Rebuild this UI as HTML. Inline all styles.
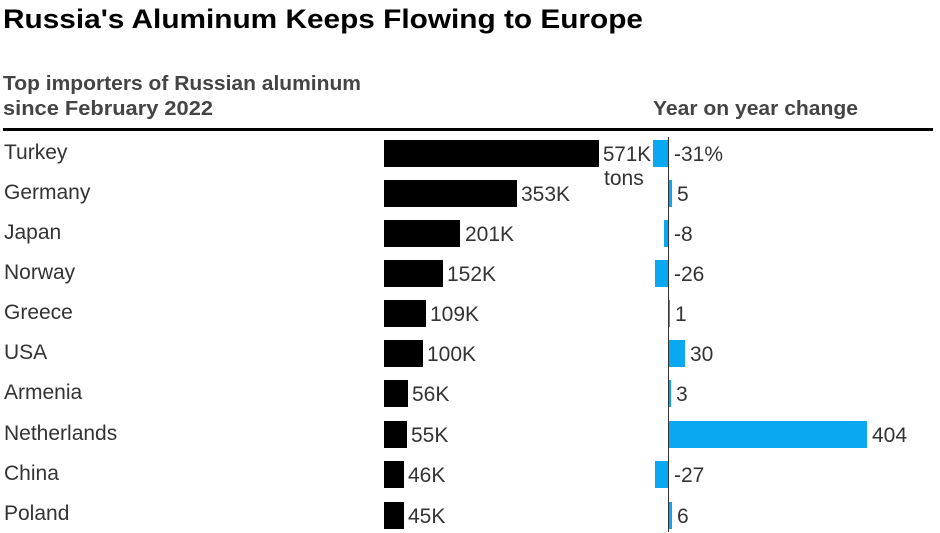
<!DOCTYPE html>
<html><head><meta charset="utf-8"><style>
html,body{margin:0;padding:0;background:#fff;}
svg{display:block;font-family:"Liberation Sans",Arial,sans-serif;}
</style></head><body>
<svg width="940" height="533" viewBox="0 0 940 533" xmlns="http://www.w3.org/2000/svg">
<text x="3" y="28" font-size="27" font-weight="bold" fill="#000" textLength="640" lengthAdjust="spacingAndGlyphs">Russia's Aluminum Keeps Flowing to Europe</text>
<text x="3" y="90" font-size="20" font-weight="bold" fill="#444" textLength="358" lengthAdjust="spacingAndGlyphs">Top importers of Russian aluminum</text>
<text x="3" y="115" font-size="20" font-weight="bold" fill="#444" textLength="210" lengthAdjust="spacingAndGlyphs">since February 2022</text>
<text x="653" y="115" font-size="20" font-weight="bold" fill="#444" textLength="205" lengthAdjust="spacingAndGlyphs">Year on year change</text>
<rect x="3" y="128" width="930" height="3" fill="#000"/>
<line x1="668.5" y1="137" x2="668.5" y2="532" stroke="#333" stroke-width="1"/>
<g font-size="21" fill="#333">
<text x="4" y="159">Turkey</text>
<text x="4" y="199">Germany</text>
<text x="4" y="239">Japan</text>
<text x="4" y="279">Norway</text>
<text x="4" y="319">Greece</text>
<text x="4" y="359">USA</text>
<text x="4" y="399">Armenia</text>
<text x="4" y="440">Netherlands</text>
<text x="4" y="480">China</text>
<text x="4" y="520">Poland</text>
</g>
<g fill="#000">
<rect x="384" y="140" width="215" height="27"/>
<rect x="384" y="180" width="133" height="27"/>
<rect x="384" y="220" width="76" height="27"/>
<rect x="384" y="260" width="59" height="27"/>
<rect x="384" y="300" width="42" height="27"/>
<rect x="384" y="340" width="39" height="27"/>
<rect x="384" y="380" width="24" height="27"/>
<rect x="384" y="421" width="23" height="27"/>
<rect x="384" y="461" width="20" height="27"/>
<rect x="384" y="502" width="20" height="27"/>
</g>
<g font-size="21" fill="#333">
<text x="603" y="161" textLength="48" lengthAdjust="spacingAndGlyphs">571K</text>
<text x="604" y="185">tons</text>
<text x="521" y="201">353K</text>
<text x="465" y="241">201K</text>
<text x="447" y="281">152K</text>
<text x="430" y="321">109K</text>
<text x="427" y="361">100K</text>
<text x="412" y="401">56K</text>
<text x="411" y="442">55K</text>
<text x="408" y="482">46K</text>
<text x="408" y="523">45K</text>
</g>
<g fill="#0aa8f0">
<rect x="653" y="140" width="15" height="27"/>
<rect x="669" y="180" width="3" height="27"/>
<rect x="664" y="220" width="4" height="27"/>
<rect x="655" y="260" width="13" height="27"/>
<rect x="669" y="300" width="1" height="27"/>
<rect x="669" y="340" width="16" height="27"/>
<rect x="669" y="380" width="2" height="27"/>
<rect x="669" y="421" width="198" height="27"/>
<rect x="655" y="461" width="13" height="27"/>
<rect x="669" y="502" width="3" height="27"/>
</g>
<g font-size="21" fill="#333">
<text x="674" y="161">-31%</text>
<text x="677" y="201">5</text>
<text x="674" y="241">-8</text>
<text x="674" y="281">-26</text>
<text x="675" y="321">1</text>
<text x="690" y="361">30</text>
<text x="676" y="401">3</text>
<text x="872" y="442">404</text>
<text x="674" y="482">-27</text>
<text x="677" y="523">6</text>
</g>
</svg>
</body></html>
